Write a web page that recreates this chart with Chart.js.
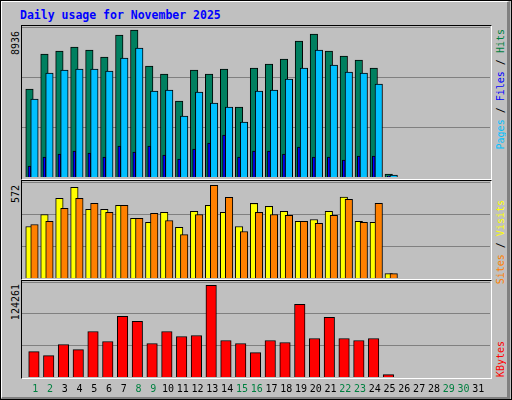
<!DOCTYPE html>
<html><head><meta charset="utf-8">
<script src="https://cdn.jsdelivr.net/npm/chart.js@4"></script>
<style>
body{margin:0;background:#c0c0c0;font-family:"DejaVu Sans Mono",monospace}
#wrap{position:absolute;left:0;top:0;width:510px;height:398px;border:1px solid #000;background:#c0c0c0}
#inner{position:absolute;left:0;top:0;width:505px;height:395px;border-top:1px solid #fff;border-left:1px solid #fff;border-right:3px solid #808080;border-bottom:2px solid #808080}
.panel{position:absolute;left:20px;width:469px;border-top:1px solid #000;border-left:1px solid #000;border-right:1px solid #fff;border-bottom:1px solid #fff}
canvas{position:absolute}
.vt{position:absolute;writing-mode:vertical-rl;transform:rotate(180deg);font-size:10px;line-height:12px;white-space:nowrap}
</style></head><body>
<div id="wrap"><div id="inner"></div>
<div style="position:absolute;left:19px;top:7px;color:#0000ff;font-weight:bold;font-size:11.5px">Daily usage for November 2025</div>
<div class="panel" style="top:24px;height:153px"></div>
<div class="panel" style="top:179px;height:98px"></div>
<div class="panel" style="top:279px;height:97px"></div>
<div class="vt" style="left:9px;top:30px;color:#000">8936</div>
<div class="vt" style="left:9px;top:184px;color:#000">572</div>
<div class="vt" style="left:9px;top:283px;color:#000">124261</div>
<div class="vt" style="left:494px;top:28px"><span style="color:#00c0ff">Pages</span> / <span style="color:#0000ff">Files</span> / <span style="color:#008040">Hits</span></div>
<div class="vt" style="left:494px;top:199px"><span style="color:#ff8000">Sites</span> / <span style="color:#ffff00">Visits</span></div>
<div class="vt" style="left:494px;top:340px;color:#ff0000">KBytes</div>
<canvas id="g1" style="left:21px;top:26px;width:468px;height:150px"></canvas>
<canvas id="a1" style="left:21.3px;top:26px;width:464px;height:150px"></canvas>
<canvas id="b1" style="left:25.5px;top:26px;width:464px;height:150px"></canvas>
<canvas id="g2" style="left:21px;top:181px;width:468px;height:96px"></canvas>
<canvas id="a2" style="left:21.3px;top:181px;width:464px;height:96px"></canvas>
<canvas id="b2" style="left:25.5px;top:181px;width:464px;height:96px"></canvas>
<canvas id="g3" style="left:21px;top:281px;width:468px;height:95px"></canvas>
<canvas id="c3" style="left:23.8px;top:281px;width:464px;height:119px"></canvas>
</div>
<script>
const days=Array.from({length:31},(_,i)=>String(i+1));
const weekend=[1,2,8,9,15,16,22,23,29,30];
const hits=[5350,7478,7661,7904,7722,7296,8634,8936,6749,6262,4621,6506,6262,6566,4256,6627,6870,7174,8269,8694,7661,7357,7114,6627,182];
const files=[4742,6323,6506,6566,6566,6445,7235,7843,5229,5290,3709,5168,4499,4256,3344,5229,5290,5958,6627,7722,6810,6384,6323,5654,122];
const pages=[669,1216,1398,1581,1459,1216,1885,1520,1885,1338,1094,1702,2067,2554,1216,1581,1581,1398,1824,1216,1216,1034,1277,1277,61];
const visits=[318,392,491,560,423,423,448,368,343,405,312,411,448,405,318,460,442,411,349,361,411,500,349,343,27];
const sites=[330,349,430,491,460,405,448,368,399,355,268,392,572,498,287,405,392,386,349,337,386,485,343,460,27];
const kbytes=[34466,29024,43990,37187,61676,48071,82084,75281,45350,61676,54874,56234,124261,49432,45350,33106,49432,46711,98410,52153,80723,52153,49432,52153,3175];
const maxHits=8936,maxVisits=572,maxKB=124261;
const top1=maxHits*150/147, top2=maxVisits*96/92.7, top3=maxKB*95/91.7;

Chart.defaults.animation=false;
function yAx(max,grid){return {min:0,max:max,border:{display:false},grid:{display:grid,color:'#808080',drawTicks:false,lineWidth:1},
  ticks:{display:false,stepSize:max/3},afterFit:s=>{s.width=0}};}
const hidX={display:false,offset:true};
const bar=(l,d,c,w)=>({label:l,data:d,backgroundColor:c,borderColor:'#000',borderWidth:1,grouped:false,barThickness:w});
const base={responsive:false,maintainAspectRatio:false,layout:{padding:0},plugins:{legend:{display:false},tooltip:{enabled:false}}};
function mk(id,w,h){const c=document.getElementById(id);c.width=w;c.height=h;return c;}
function chart(id,w,h,ds,max,grid,xs){
  return new Chart(mk(id,w,h),{type:'bar',data:{labels:days,datasets:ds},
    options:Object.assign({},base,{scales:{x:xs||hidX,y:yAx(max,grid)}})});}
// grid-only layers
chart('g1',468,150,[],top1,true);
chart('g2',468,96,[],top2,true);
chart('g3',468,95,[],top3,true);
// top panel
chart('a1',464,150,[bar('Pages',pages,'#0000ff',3),bar('Hits',hits,'#008060',7.5)],top1,false);
chart('b1',464,150,[bar('Files',files,'#00c0ff',7.5)],top1,false);
// middle panel
chart('a2',464,96,[bar('Visits',visits,'#ffff00',7.5)],top2,false);
chart('b2',464,96,[bar('Sites',sites,'#ff8000',7.5)],top2,false);
// bottom panel
chart('c3',464,119,[bar('KBytes',kbytes,'#ff0000',10.5)],top3,false,
  {offset:true,border:{display:false},grid:{display:false,drawTicks:false},afterFit:s=>{s.height=24},
   ticks:{padding:6,labelOffset:1.2,maxRotation:0,autoSkip:false,font:{family:'DejaVu Sans Mono',size:10},
     color:c=>weekend.includes(c.index+1)?'#008040':'#000'}});
</script></body></html>
